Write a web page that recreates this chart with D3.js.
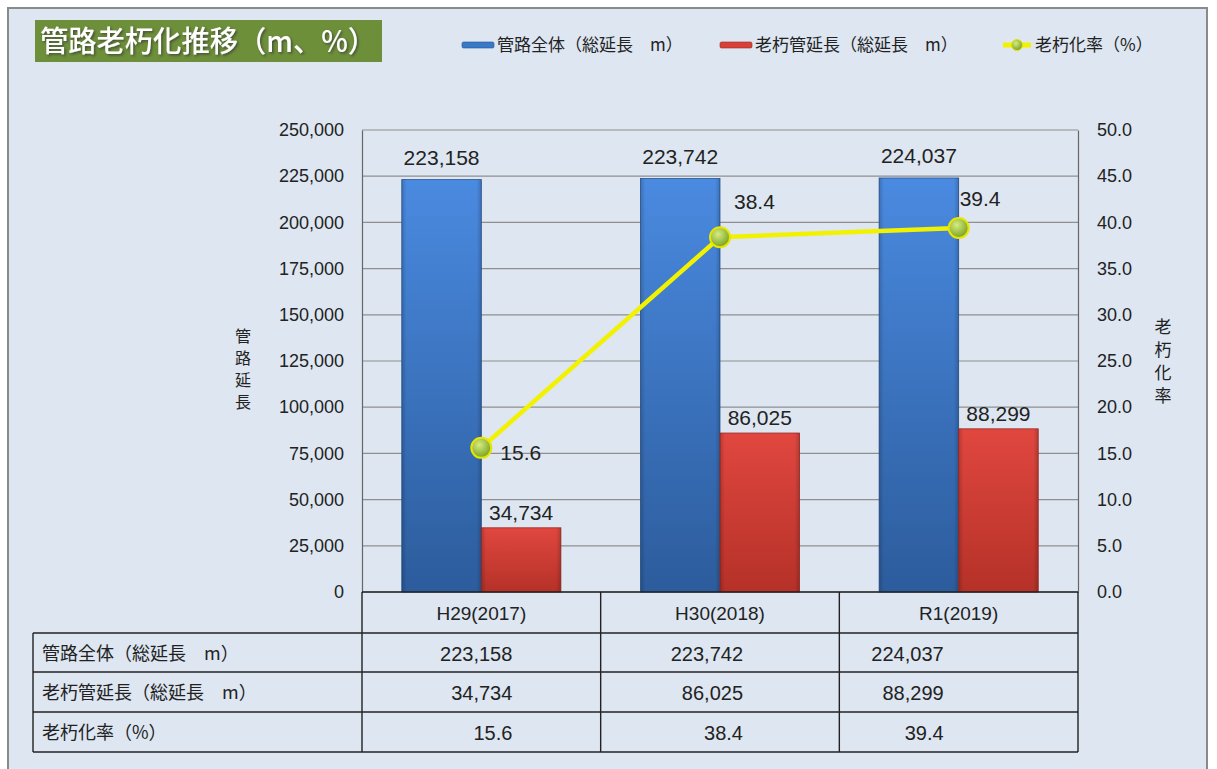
<!DOCTYPE html>
<html>
<head>
<meta charset="utf-8">
<script src="https://cdn.jsdelivr.net/npm/d3@7"></script>
<style>
  body { margin: 0; background: #fff; }
  text { font-family: "Noto Sans CJK JP", "Liberation Sans", sans-serif; fill: #222; }
</style>
</head>
<body>
<div id="wrapper"></div>
<script>
// data
const categories = ['H29(2017)', 'H30(2018)', 'R1(2019)'];
const totalLength = [223158, 223742, 224037];
const agedLength = [34734, 86025, 88299];
const agedRate = [15.6, 38.4, 39.4];
const seriesNames = ['管路全体（総延長　m）', '老朽管延長（総延長　m）', '老朽化率（%）'];
const leftTicks = [0, 25000, 50000, 75000, 100000, 125000, 150000, 175000, 200000, 225000, 250000];
const rightTicks = [0, 5, 10, 15, 20, 25, 30, 35, 40, 45, 50];

const width = 1217, height = 769;
const plot = { left: 362, right: 1078, top: 130, bottom: 592 };

const svg = d3.select('#wrapper').append('svg')
  .attr('width', width).attr('height', height);

const defs = svg.append('defs');
const blueGrad = defs.append('linearGradient').attr('id', 'blueGrad').attr('x1', 0).attr('y1', 0).attr('x2', 0).attr('y2', 1);
blueGrad.append('stop').attr('offset', '0%').attr('stop-color', '#4a8ae0');
blueGrad.append('stop').attr('offset', '100%').attr('stop-color', '#2c5c9c');
const blueSide = defs.append('linearGradient').attr('id', 'blueSide');
blueSide.append('stop').attr('offset', '0%').attr('stop-color', '#000').attr('stop-opacity', 0.18);
blueSide.append('stop').attr('offset', '6%').attr('stop-color', '#000').attr('stop-opacity', 0);
blueSide.append('stop').attr('offset', '94%').attr('stop-color', '#000').attr('stop-opacity', 0);
blueSide.append('stop').attr('offset', '100%').attr('stop-color', '#000').attr('stop-opacity', 0.18);
const redGrad = defs.append('linearGradient').attr('id', 'redGrad').attr('x1', 0).attr('y1', 0).attr('x2', 0).attr('y2', 1);
redGrad.append('stop').attr('offset', '0%').attr('stop-color', '#e0473f');
redGrad.append('stop').attr('offset', '100%').attr('stop-color', '#b53128');
const ball = defs.append('radialGradient').attr('id', 'ball').attr('cx', '40%').attr('cy', '35%').attr('r', '65%');
ball.append('stop').attr('offset', '0%').attr('stop-color', '#d6ec80');
ball.append('stop').attr('offset', '100%').attr('stop-color', '#7aa222');
const shadow = defs.append('filter').attr('id', 'tshadow');
shadow.append('feDropShadow').attr('dx', 1.5).attr('dy', 1.5).attr('stdDeviation', 0.8).attr('flood-color', '#333').attr('flood-opacity', 0.7);

// frame
svg.append('rect').attr('x', 8).attr('y', 8).attr('width', 1199).attr('height', 775)
  .attr('fill', '#dde6f1').attr('stroke', '#8a8a8a').attr('stroke-width', 2);

// title
svg.append('rect').attr('x', 35).attr('y', 20).attr('width', 347).attr('height', 42).attr('fill', '#6d8f3a');
svg.append('text').attr('x', 40).attr('y', 52).attr('font-size', 29).attr('font-weight', 500)
  .attr('textLength', 336).attr('lengthAdjust', 'spacingAndGlyphs')
  .style('fill', '#fff').attr('filter', 'url(#tshadow)').text('管路老朽化推移（m、%）');

// scales
const x = d3.scaleBand().domain(categories).range([plot.left, plot.right]);
const yL = d3.scaleLinear().domain([0, 250000]).range([plot.bottom, plot.top]);
const yR = d3.scaleLinear().domain([0, 50]).range([plot.bottom, plot.top]);
const barW = x.bandwidth() / 3;
const fmt = d3.format(',');

// gridlines
svg.append('g').selectAll('line').data(leftTicks).join('line')
  .attr('x1', plot.left).attr('x2', plot.right)
  .attr('y1', d => yL(d)).attr('y2', d => yL(d))
  .attr('stroke', '#8f8f8f').attr('stroke-width', 1.2);

// axes
const leftAxis = svg.append('g').attr('transform', `translate(${plot.left},0)`)
  .call(d3.axisLeft(yL).tickValues(leftTicks).tickFormat(fmt).tickSize(0).tickPadding(18));
leftAxis.select('.domain').attr('stroke', '#666').attr('stroke-width', 1.2);
leftAxis.selectAll('text').attr('font-size', 18).style('font-family', '"Liberation Sans", sans-serif').attr('fill', '#222');

const rightAxis = svg.append('g').attr('transform', `translate(${plot.right},0)`)
  .call(d3.axisRight(yR).tickValues(rightTicks).tickFormat(d3.format('.1f')).tickSize(0).tickPadding(19));
rightAxis.select('.domain').attr('stroke', '#666').attr('stroke-width', 1.2);
rightAxis.selectAll('text').attr('font-size', 18).style('font-family', '"Liberation Sans", sans-serif').attr('fill', '#222');

// axis titles (vertical stacked)
const leftTitle = '管路延長'.split('');
svg.append('g').selectAll('text').data(leftTitle).join('text')
  .attr('x', 243).attr('y', (d, i) => 342 + i * 22)
  .attr('text-anchor', 'middle').attr('font-size', 16).text(d => d);
const rightTitle = '老朽化率'.split('');
svg.append('g').selectAll('text').data(rightTitle).join('text')
  .attr('x', 1163).attr('y', (d, i) => 333 + i * 23)
  .attr('text-anchor', 'middle').attr('font-size', 17).text(d => d);

// bars
const bars = svg.append('g');
categories.forEach((c, i) => {
  const bx = x(c) + barW / 2;
  bars.append('rect').attr('x', bx).attr('y', yL(totalLength[i]))
    .attr('width', barW).attr('height', plot.bottom - yL(totalLength[i]))
    .attr('fill', 'url(#blueGrad)').attr('stroke', '#2a5590').attr('stroke-width', 0.8);
  bars.append('rect').attr('x', bx).attr('y', yL(totalLength[i]))
    .attr('width', barW).attr('height', plot.bottom - yL(totalLength[i]))
    .attr('fill', 'url(#blueSide)');
  bars.append('rect').attr('x', bx + barW).attr('y', yL(agedLength[i]))
    .attr('width', barW).attr('height', plot.bottom - yL(agedLength[i]))
    .attr('fill', 'url(#redGrad)').attr('stroke', '#9a2a22').attr('stroke-width', 0.8);
  bars.append('rect').attr('x', bx + barW).attr('y', yL(agedLength[i]))
    .attr('width', barW).attr('height', plot.bottom - yL(agedLength[i]))
    .attr('fill', 'url(#blueSide)');

  svg.append('text').attr('x', bx + barW / 2).attr('y', yL(totalLength[i]) - 15)
    .attr('text-anchor', 'middle').attr('font-size', 21)
    .style('font-family', '"Liberation Sans", sans-serif').text(fmt(totalLength[i]));
  svg.append('text').attr('x', bx + barW * 1.5).attr('y', yL(agedLength[i]) - 8)
    .attr('text-anchor', 'middle').attr('font-size', 21)
    .style('font-family', '"Liberation Sans", sans-serif').text(fmt(agedLength[i]));
});

// line
const lineX = c => x(c) + barW * 1.5;
const line = d3.line().x((d, i) => lineX(categories[i])).y(d => yR(d));
svg.append('path').datum(agedRate).attr('d', line)
  .attr('fill', 'none').attr('stroke', '#f2f200').attr('stroke-width', 4.5);
svg.append('g').selectAll('circle').data(agedRate).join('circle')
  .attr('cx', (d, i) => lineX(categories[i])).attr('cy', d => yR(d)).attr('r', 10)
  .attr('fill', 'url(#ball)').attr('stroke', '#e6e600').attr('stroke-width', 2);
const rateLabelOffset = [[19, 12], [14, -28], [1, -22]];
svg.append('g').selectAll('text').data(agedRate).join('text')
  .attr('x', (d, i) => lineX(categories[i]) + rateLabelOffset[i][0])
  .attr('y', (d, i) => yR(d) + rateLabelOffset[i][1])
  .attr('font-size', 21).style('font-family', '"Liberation Sans", sans-serif')
  .text(d => d.toFixed(1));

// legend
const legend = svg.append('g');
legend.append('rect').attr('x', 462).attr('y', 42).attr('width', 32).attr('height', 6).attr('rx', 1.5)
  .attr('fill', '#3a78c8').attr('stroke', '#2a5590').attr('stroke-width', 0.6);
legend.append('text').attr('x', 497).attr('y', 51).attr('font-size', 17).text(seriesNames[0]);
legend.append('rect').attr('x', 720).attr('y', 42).attr('width', 32).attr('height', 6).attr('rx', 1.5)
  .attr('fill', '#d8403a').attr('stroke', '#9a2a22').attr('stroke-width', 0.6);
legend.append('text').attr('x', 755).attr('y', 51).attr('font-size', 17).text(seriesNames[1]);
legend.append('line').attr('x1', 1003).attr('x2', 1031).attr('y1', 45).attr('y2', 45)
  .attr('stroke', '#f2f200').attr('stroke-width', 5);
legend.append('circle').attr('cx', 1017).attr('cy', 45).attr('r', 5.5)
  .attr('fill', 'url(#ball)').attr('stroke', '#e6e600').attr('stroke-width', 1);
legend.append('text').attr('x', 1035).attr('y', 51).attr('font-size', 17).text(seriesNames[2]);

// data table
const table = svg.append('g');
const rowY = [592, 633, 672, 712, 752];
const tableLeft = 33;
const lineAttr = sel => sel.attr('stroke', '#222').attr('stroke-width', 1.4);
// horizontal lines
table.append('line').attr('x1', plot.left).attr('x2', plot.right).attr('y1', rowY[0]).attr('y2', rowY[0]).call(lineAttr);
rowY.slice(1).forEach(yv => {
  table.append('line').attr('x1', tableLeft).attr('x2', plot.right).attr('y1', yv).attr('y2', yv).call(lineAttr);
});
// vertical lines
table.append('line').attr('x1', tableLeft).attr('x2', tableLeft).attr('y1', rowY[1]).attr('y2', rowY[4]).call(lineAttr);
[plot.left, ...categories.map(c => x(c) + x.bandwidth())].forEach(xv => {
  table.append('line').attr('x1', xv).attr('x2', xv).attr('y1', rowY[0]).attr('y2', rowY[4]).call(lineAttr);
});
// header
categories.forEach(c => {
  table.append('text').attr('x', x(c) + x.bandwidth() / 2).attr('y', rowY[0] + 28)
    .attr('text-anchor', 'middle').attr('font-size', 19)
    .style('font-family', '"Liberation Sans", sans-serif').text(c);
});
// rows
const rows = [totalLength.map(fmt), agedLength.map(fmt), agedRate.map(d => d.toFixed(1))];
const valueRight = [31, 23, -15];
rows.forEach((r, ri) => {
  table.append('text').attr('x', 42).attr('y', rowY[ri + 1] + 27).attr('font-size', 18).text(seriesNames[ri]);
  r.forEach((v, ci) => {
    const c = categories[ci];
    table.append('text').attr('x', x(c) + x.bandwidth() / 2 + valueRight[ci]).attr('y', rowY[ri + 1] + 28)
      .attr('text-anchor', 'end').attr('font-size', 20)
      .style('font-family', '"Liberation Sans", sans-serif').text(v);
  });
});
</script>
</body>
</html>
